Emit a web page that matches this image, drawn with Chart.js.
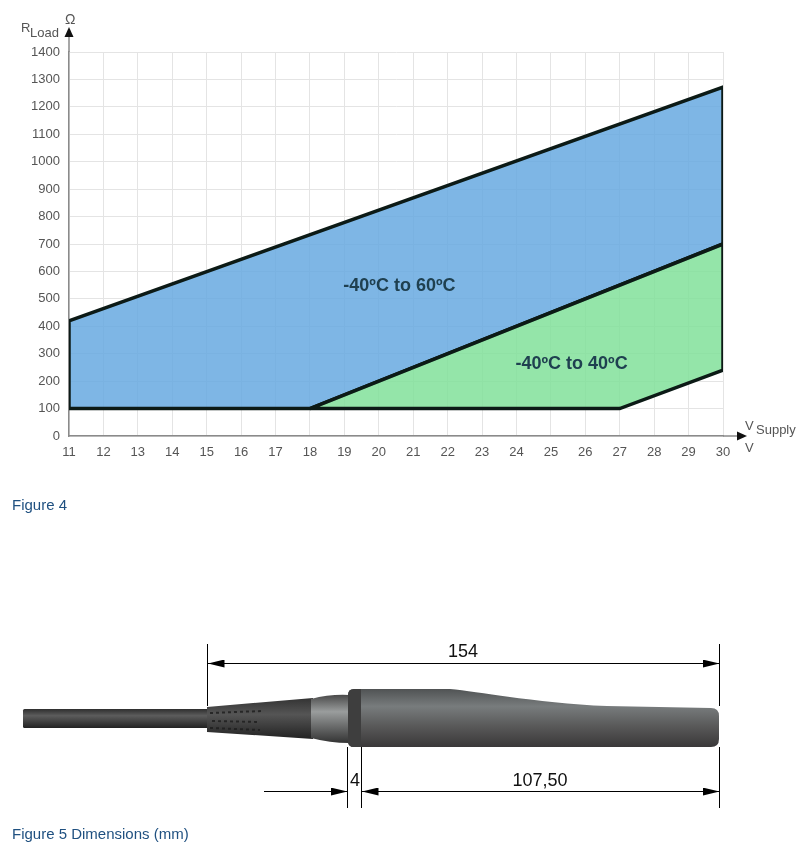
<!DOCTYPE html>
<html>
<head>
<meta charset="utf-8">
<title>Figure 4 and Figure 5</title>
<script src="https://cdn.jsdelivr.net/npm/chart.js@4"></script>
<style>
  html, body { margin: 0; padding: 0; background: #fff; }
  body { position: relative; width: 805px; height: 842px; overflow: hidden; font-family: "Liberation Sans", sans-serif; }
  #load-graph { position: absolute; left: 0; top: 0; filter: blur(0.7px); }
  #sensor { position: absolute; left: 0; top: 0; }
  .caption { position: absolute; left: 12px; font-size: 15px; line-height: 16px; color: #1f5080; }
</style>
</head>
<body>
<canvas id="load-graph" width="805" height="480"></canvas>
<svg id="sensor" width="805" height="842" viewBox="0 0 805 842" style="pointer-events:none">
  <defs>
    <linearGradient id="bodyShade" x1="0" y1="0" x2="0" y2="1">
      <stop offset="0" stop-color="#505354"/>
      <stop offset="0.3" stop-color="#787c7d"/>
      <stop offset="0.65" stop-color="#585858"/>
      <stop offset="1" stop-color="#3a3839"/>
    </linearGradient>
    <linearGradient id="cableShade" x1="0" y1="0" x2="0" y2="1">
      <stop offset="0" stop-color="#2e2e2e"/>
      <stop offset="0.35" stop-color="#5c5c5c"/>
      <stop offset="1" stop-color="#222"/>
    </linearGradient>
    <linearGradient id="reliefShade" x1="0" y1="0" x2="0" y2="1">
      <stop offset="0" stop-color="#333"/>
      <stop offset="0.4" stop-color="#555"/>
      <stop offset="1" stop-color="#222"/>
    </linearGradient>
    <linearGradient id="collarShade" x1="0" y1="0" x2="0" y2="1">
      <stop offset="0" stop-color="#4a4a4a"/>
      <stop offset="0.35" stop-color="#9a9d9d"/>
      <stop offset="1" stop-color="#333"/>
    </linearGradient>
    <marker id="arrowEnd" markerUnits="userSpaceOnUse" markerWidth="17" markerHeight="8" refX="17" refY="4" orient="auto">
      <path d="M0 0L17 4L0 8Z" fill="#000"/>
    </marker>
    <marker id="arrowStart" markerUnits="userSpaceOnUse" markerWidth="17" markerHeight="8" refX="0" refY="4" orient="auto">
      <path d="M17 0L0 4L17 8Z" fill="#000"/>
    </marker>
  </defs>
  <rect x="23" y="709" width="186" height="19" rx="1.5" fill="url(#cableShade)"/>
  <path d="M207 707L313 698L313 739L207 732Z" fill="url(#reliefShade)"/>
  <g stroke="#1d1d1d" stroke-width="2" stroke-dasharray="3 3" opacity="0.8">
    <path d="M210 713L262 711"/>
    <path d="M212 721L260 722"/>
    <path d="M210 728L260 730"/>
  </g>
  <path d="M311 699Q330 694 349 695L349 743Q330 743 311 738Z" fill="url(#collarShade)"/>
  <path d="M354 689L450 689C480 692 540 703 607 706L711 708Q719 708 719 716L719 739Q719 747 711 747L354 747Q348 747 348 741L348 695Q348 689 354 689Z" fill="url(#bodyShade)"/>
  <path d="M354 689Q348 689 348 695L348 741Q348 747 354 747L361 747L361 689Z" fill="#3e3e3e"/>
  <g stroke="#000" stroke-width="1" fill="none">
    <path d="M207.5 644V706"/>
    <path d="M719.5 644V706"/>
    <path d="M719.5 747V808"/>
    <path d="M347.5 747V808"/>
    <path d="M361.5 747V808"/>
    <path d="M207.5 663.5H719.5" marker-start="url(#arrowStart)" marker-end="url(#arrowEnd)"/>
    <path d="M264 791.5H347.5" marker-end="url(#arrowEnd)"/>
    <path d="M361.5 791.5H719.5" marker-start="url(#arrowStart)" marker-end="url(#arrowEnd)"/>
  </g>
  <g font-family="Liberation Sans, sans-serif" font-size="18" fill="#111" text-anchor="middle">
    <text x="463" y="657">154</text>
    <text x="355" y="786">4</text>
    <text x="540" y="786">107,50</text>
  </g>
</svg>
<div class="caption" style="top:497px">Figure 4</div>
<div class="caption" style="top:826px">Figure 5 Dimensions (mm)</div>
<script>
const supplyTicks = [11, 12, 13, 14, 15, 16, 17, 18, 19, 20, 21, 22, 23, 24, 25, 26, 27, 28, 29, 30];
const loadTicks = [0, 100, 200, 300, 400, 500, 600, 700, 800, 900, 1000, 1100, 1200, 1300, 1400];
// outline of each operating area, closed back on its first point
const hotSupply = [11, 11, 30, 30, 18, 11];
const hotLoad = [100, 420, 1272, 700, 100, 100];
const coolSupply = [18, 30, 30, 27, 18];
const coolLoad = [100, 700, 240, 100, 100];
const areaLabels = ["-40ºC to 60ºC", "-40ºC to 40ºC"];
const areaLabelSupply = [20.6, 25.6];
const areaLabelLoad = [547, 262];

const toPoints = (xs, ys) => xs.map((x, i) => ({ x: x, y: ys[i] }));

const axisDecor = {
  id: "axisDecor",
  afterDraw(chart) {
    const c = chart.ctx;
    const area = chart.chartArea;
    c.save();
    // axes run past the plot and end in arrow heads
    c.strokeStyle = "#8a8a8a";
    c.lineWidth = 1.5;
    c.beginPath();
    c.moveTo(area.left, area.top);
    c.lineTo(area.left, 34);
    c.moveTo(area.right, area.bottom);
    c.lineTo(740, area.bottom);
    c.stroke();
    c.fillStyle = "#111";
    c.beginPath();
    c.moveTo(area.left, 27);
    c.lineTo(area.left - 4.5, 37);
    c.lineTo(area.left + 4.5, 37);
    c.fill();
    c.beginPath();
    c.moveTo(747, area.bottom);
    c.lineTo(737, area.bottom - 4.5);
    c.lineTo(737, area.bottom + 4.5);
    c.fill();

    c.fillStyle = "#555";
    c.textBaseline = "alphabetic";
    c.textAlign = "left";
    c.font = '13px "Liberation Sans"';
    c.fillText("R", 21, 32);
    c.fillText("V", 745, 430);
    c.fillText("V", 745, 452);
    c.font = '14px "Liberation Sans"';
    c.fillText("Ω", 65, 24);
    c.font = '13px "Liberation Sans"';
    c.fillText("Load", 30, 37);
    c.fillText("Supply", 756, 434);

    // area names sit at data positions
    c.fillStyle = "#1f4050";
    c.textAlign = "center";
    c.textBaseline = "middle";
    c.font = 'bold 18px "Liberation Sans"';
    areaLabels.forEach((t, i) => {
      c.fillText(t, chart.scales.x.getPixelForValue(areaLabelSupply[i]), chart.scales.y.getPixelForValue(areaLabelLoad[i]));
    });
    c.restore();
  },
};

new Chart(document.getElementById("load-graph").getContext("2d"), {
  type: "line",
  data: {
    datasets: [
      {
        label: areaLabels[1],
        data: toPoints(coolSupply, coolLoad),
        borderColor: "#0c1a16",
        borderWidth: 3.5,
        backgroundColor: "rgba(130, 225, 155, 0.86)",
        fill: "shape",
        pointRadius: 0,
        tension: 0,
        order: 1,
      },
      {
        label: areaLabels[0],
        data: toPoints(hotSupply, hotLoad),
        borderColor: "#0c1a16",
        borderWidth: 3.5,
        backgroundColor: "rgba(105, 170, 225, 0.86)",
        fill: "shape",
        pointRadius: 0,
        tension: 0,
        order: 2,
      },
    ],
  },
  options: {
    responsive: false,
    animation: false,
    devicePixelRatio: 1,
    layout: { padding: { top: 52, right: 82, left: 0, bottom: 0 } },
    plugins: { legend: { display: false }, tooltip: { enabled: false } },
    scales: {
      x: {
        type: "linear",
        min: 11,
        max: 30,
        afterBuildTicks: (axis) => { axis.ticks = supplyTicks.map((v) => ({ value: v })); },
        afterFit: (axis) => { axis.height = 44; },
        ticks: { color: "#555", font: { family: "Liberation Sans", size: 13 }, padding: 9, maxRotation: 0, autoSkip: false, callback: (v) => String(v) },
        grid: { color: "#e4e4e4", lineWidth: 1, drawTicks: false },
        border: { color: "#8a8a8a", width: 1.5 },
      },
      y: {
        min: 0,
        max: 1400,
        afterBuildTicks: (axis) => { axis.ticks = loadTicks.map((v) => ({ value: v })); },
        afterFit: (axis) => { axis.width = 69; },
        ticks: { color: "#555", font: { family: "Liberation Sans", size: 13 }, padding: 9, autoSkip: false, callback: (v) => String(v) },
        grid: { color: "#e4e4e4", lineWidth: 1, drawTicks: false },
        border: { color: "#8a8a8a", width: 1.5 },
      },
    },
  },
  plugins: [axisDecor],
});
</script>
</body>
</html>
